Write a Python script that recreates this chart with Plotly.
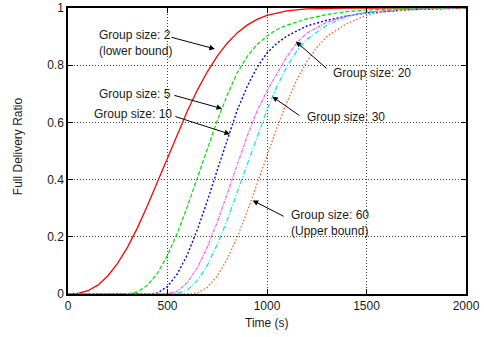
import plotly.graph_objects as go

# Time axis samples (s) and delivery ratio for each group size
t_g2 = [0, 50, 100, 150, 200, 250, 300, 350, 400, 450, 500, 550, 600, 650, 700, 750,
        800, 850, 900, 950, 1000, 1100, 1200, 1400, 2000]
r_g2 = [0, 0.002, 0.0115, 0.031, 0.063, 0.108, 0.165, 0.233, 0.31, 0.392, 0.476, 0.56,
        0.64, 0.713, 0.777, 0.832, 0.877, 0.913, 0.94, 0.96, 0.974, 0.99, 0.997, 0.9995, 1.0]

t_g5 = [0, 290, 300, 350, 400, 450, 500, 550, 600, 650, 700, 750, 800, 850, 900, 950,
        1000, 1050, 1100, 1200, 1300, 1400, 1500, 1700, 2000]
r_g5 = [0, 0, 0.0001, 0.0074, 0.031, 0.073, 0.135, 0.214, 0.306, 0.406, 0.508, 0.606,
        0.695, 0.773, 0.83, 0.872, 0.902, 0.925, 0.94, 0.962, 0.977, 0.987, 0.993, 0.998, 1.0]

t_g10 = [0, 410, 450, 500, 550, 600, 650, 700, 750, 800, 850, 900, 950, 1000, 1050,
         1100, 1200, 1300, 1400, 1500, 1700, 2000]
r_g10 = [0, 0, 0.004, 0.026, 0.071, 0.138, 0.225, 0.325, 0.433, 0.541, 0.642, 0.725,
         0.792, 0.843, 0.877, 0.902, 0.937, 0.957, 0.972, 0.983, 0.994, 1.0]

t_g20 = [0, 495, 550, 600, 650, 700, 750, 800, 850, 900, 950, 1000, 1050, 1100, 1150,
         1200, 1300, 1400, 1500, 1700, 2000]
r_g20 = [0, 0, 0.0099, 0.04, 0.092, 0.164, 0.251, 0.349, 0.451, 0.551, 0.64, 0.71, 0.77,
         0.83, 0.878, 0.912, 0.95, 0.972, 0.985, 0.996, 1.0]

t_g30 = [0, 535, 600, 650, 700, 750, 800, 850, 900, 950, 1000, 1050, 1100, 1150, 1200,
         1300, 1400, 1500, 1700, 2000]
r_g30 = [0, 0, 0.0135, 0.047, 0.1, 0.173, 0.259, 0.355, 0.455, 0.553, 0.644, 0.726,
         0.795, 0.85, 0.89, 0.94, 0.97, 0.984, 0.995, 1.0]

t_g60 = [0, 612, 650, 700, 750, 800, 850, 900, 950, 1000, 1050, 1100, 1150, 1200, 1250,
         1300, 1400, 1500, 1600, 1800, 2000]
r_g60 = [0, 0, 0.0035, 0.023, 0.063, 0.122, 0.198, 0.287, 0.385, 0.484, 0.581, 0.67,
         0.749, 0.812, 0.862, 0.9, 0.945, 0.975, 0.988, 0.997, 1.0]

x_ticks = [0, 500, 1000, 1500, 2000]
y_ticks = [0, 0.2, 0.4, 0.6, 0.8, 1]
y_tick_labels = ["0", "0.2", "0.4", "0.6", "0.8", "1"]

series = [
    (t_g2, r_g2, "#ff0000", "solid", 1.3),
    (t_g5, r_g5, "#00e000", "4px,2px", 1.2),
    (t_g10, r_g10, "#0000ff", "2px,2px", 1.4),
    (t_g20, r_g20, "#ff40ff", "3px,1px,1px,1px", 1.1),
    (t_g30, r_g30, "#00e8e8", "5px,2px,1px,2px", 1.2),
    (t_g60, r_g60, "#ff5a1e", "1.5px,2px", 1.3),
]

fig = go.Figure()
for t, r, color, dash, width in series:
    fig.add_trace(go.Scatter(
        x=t, y=r, mode="lines", line=dict(color=color, dash=dash, width=width),
        showlegend=False, hoverinfo="skip"))

font_family = "Liberation Sans, Arial, sans-serif"
text_color = "#1a1a1a"

# Labelled arrows: (label, text x, text y, x anchor, tail x, tail y, head x, head y)
labels = [
    ("Group size: 2<br>(lower bound)", 148, 0.878, "left", 512, 0.899, 738, 0.857),
    ("Group size: 5", 526, 0.699, "right", 527, 0.696, 774, 0.648),
    ("Group size: 10", 532, 0.629, "right", 532, 0.622, 814, 0.559),
    ("Group size: 20", 1321, 0.772, "left", 1307, 0.784, 1145, 0.883),
    ("Group size: 30", 1193, 0.62, "left", 1171, 0.62, 1027, 0.69),
    ("Group size: 60<br>(Upper bound)", 1111, 0.247, "left", 1091, 0.269, 928, 0.327),
]

annotations = []
for text, tx, ty, anchor, ax, ay, hx, hy in labels:
    annotations.append(dict(
        x=hx, y=hy, ax=ax, ay=ay, xref="x", yref="y", axref="x", ayref="y",
        text="", showarrow=True, arrowhead=2, arrowsize=1.1, arrowwidth=1,
        arrowcolor="#000000", standoff=0, startstandoff=0))
    annotations.append(dict(
        x=tx, y=ty, xref="x", yref="y", text=text, showarrow=False,
        xanchor=anchor, yanchor="middle", align="left",
        font=dict(family=font_family, size=12, color=text_color)))

# Axis titles
annotations.append(dict(
    x=-0.1256, y=0.517, xref="paper", yref="paper", text="Full Delivery Ratio",
    textangle=-90, showarrow=False, xanchor="center", yanchor="middle",
    font=dict(family=font_family, size=12, color=text_color)))
annotations.append(dict(
    x=0.5, y=-0.101, xref="paper", yref="paper", text="Time (s)",
    showarrow=False, xanchor="center", yanchor="middle",
    font=dict(family=font_family, size=12, color=text_color)))

axis_common = dict(
    automargin=False,
    showline=True, linecolor="#000000", linewidth=1.5, mirror="ticks",
    ticks="inside", ticklen=5, tickwidth=1, tickcolor="#000000",
    showgrid=True, gridcolor="#444444", gridwidth=1, griddash="1px,2px",
    zeroline=False,
    tickfont=dict(family=font_family, size=12, color=text_color),
)

fig.update_layout(
    width=484, height=337,
    margin=dict(l=68, r=18, t=8, b=43),
    paper_bgcolor="#ffffff", plot_bgcolor="#ffffff",
    xaxis=dict(range=[0, 2000], tickvals=x_ticks, **axis_common),
    yaxis=dict(range=[0, 1], tickvals=y_ticks, ticktext=y_tick_labels, **axis_common),
    annotations=annotations,
)

fig.write_html("out.html")
